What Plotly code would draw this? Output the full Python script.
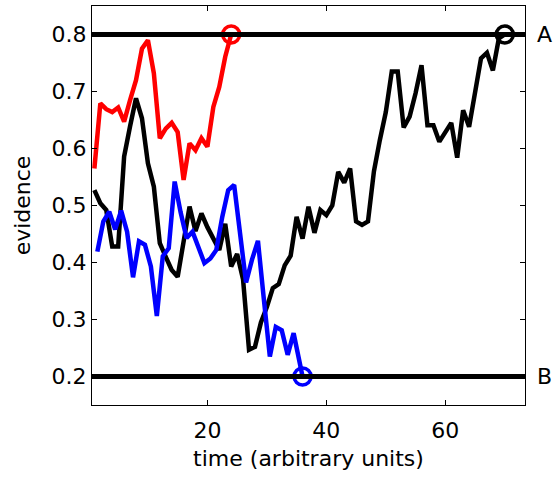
import plotly.graph_objects as go

# ---- data ----
red_t = list(range(1, 25))
red_v = [0.565, 0.679, 0.669, 0.664, 0.672, 0.647, 0.685, 0.720, 0.775, 0.790,
         0.732, 0.618, 0.635, 0.645, 0.629, 0.545, 0.609, 0.597, 0.618, 0.603,
         0.673, 0.708, 0.761, 0.800]

blue_t = [1.5, 2.5, 3.5, 4.5, 5.5, 6.5, 7.5, 8.5, 9.5, 10.5, 11.5, 12.5, 13.5,
          14.5, 15.5, 16.5, 17.5, 18.5, 19.5, 20.5, 21.5, 22.5, 23.5, 24.5,
          25.5, 26.5, 27.5, 28.5, 29.5, 30.5, 31.5, 32.5, 33.5, 34.5, 36]
blue_v = [0.419, 0.472, 0.489, 0.458, 0.491, 0.454, 0.374, 0.437, 0.431, 0.393,
          0.306, 0.411, 0.425, 0.542, 0.488, 0.443, 0.454, 0.428, 0.399, 0.407,
          0.422, 0.480, 0.527, 0.536, 0.450, 0.365, 0.405, 0.438, 0.335, 0.235,
          0.287, 0.281, 0.238, 0.276, 0.200]

black_t = list(range(1, 71))
black_v = [0.527, 0.504, 0.492, 0.428, 0.428, 0.586, 0.639, 0.688, 0.653, 0.574,
           0.533, 0.434, 0.410, 0.387, 0.375, 0.440, 0.498, 0.455, 0.486, 0.462,
           0.440, 0.422, 0.468, 0.393, 0.415, 0.370, 0.247, 0.252, 0.295, 0.322,
           0.355, 0.362, 0.395, 0.412, 0.480, 0.442, 0.498, 0.452, 0.492, 0.483,
           0.500, 0.559, 0.540, 0.565, 0.472, 0.466, 0.472, 0.560, 0.615, 0.664,
           0.735, 0.735, 0.637, 0.656, 0.697, 0.746, 0.641, 0.641, 0.612, 0.630,
           0.645, 0.584, 0.667, 0.638, 0.700, 0.758, 0.768, 0.737, 0.793, 0.800]

bounds = [0.8, 0.2]
bound_labels = ["A", "B"]
x_ticks = [20, 40, 60]
y_ticks = [0.2, 0.3, 0.4, 0.5, 0.6, 0.7, 0.8]
x_range = [0.6, 73.4]
y_range = [0.15, 0.85]

FONT = "DejaVu Sans, Liberation Sans, Arial, sans-serif"
FS = 22

fig = go.Figure()

for b in bounds:
    fig.add_shape(type="line", xref="paper", x0=0, x1=1, yref="y", y0=b, y1=b,
                  line=dict(color="black", width=5), layer="above")

series = [(black_t, black_v, "black"), (red_t, red_v, "#ff0000"), (blue_t, blue_v, "#0000ff")]
for t, v, c in series:
    fig.add_trace(go.Scatter(x=t, y=v, mode="lines", line=dict(color=c, width=4.5),
                             showlegend=False, hoverinfo="skip"))
for t, v, c in series:
    fig.add_trace(go.Scatter(x=[t[-1]], y=[v[-1]], mode="markers",
                             marker=dict(symbol="circle-open", size=17, color=c,
                                         line=dict(width=3.5, color=c)),
                             showlegend=False, hoverinfo="skip"))

for b, lab in zip(bounds, bound_labels):
    fig.add_annotation(x=1, xref="paper", xanchor="left", xshift=10, y=b, yref="y",
                       text=lab, showarrow=False, font=dict(size=FS, color="black", family=FONT))

fig.update_xaxes(range=x_range, tickvals=x_ticks, ticks="inside", ticklen=5, tickwidth=1,
                 tickcolor="black", showline=True, linecolor="black", linewidth=1.3,
                 mirror="ticks", showgrid=False, zeroline=False, ticklabelstandoff=5,
                 title=dict(text="time (arbitrary units)", font=dict(size=FS, family=FONT), standoff=9),
                 tickfont=dict(size=FS, family=FONT, color="black"))
fig.update_yaxes(range=y_range, tickvals=y_ticks, ticktext=[f"{v:.1f}" for v in y_ticks],
                 ticks="inside", ticklen=5, tickwidth=1,
                 tickcolor="black", showline=True, linecolor="black", linewidth=1.3,
                 mirror="ticks", showgrid=False, zeroline=False,
                 title=dict(text="evidence", font=dict(size=FS, family=FONT), standoff=14),
                 tickfont=dict(size=FS, family=FONT, color="black"))

fig.update_layout(width=557, height=479, margin=dict(l=92, r=32, t=6, b=74),
                  plot_bgcolor="white", paper_bgcolor="white",
                  font=dict(family=FONT, color="black"))

fig.write_html("out.html")
